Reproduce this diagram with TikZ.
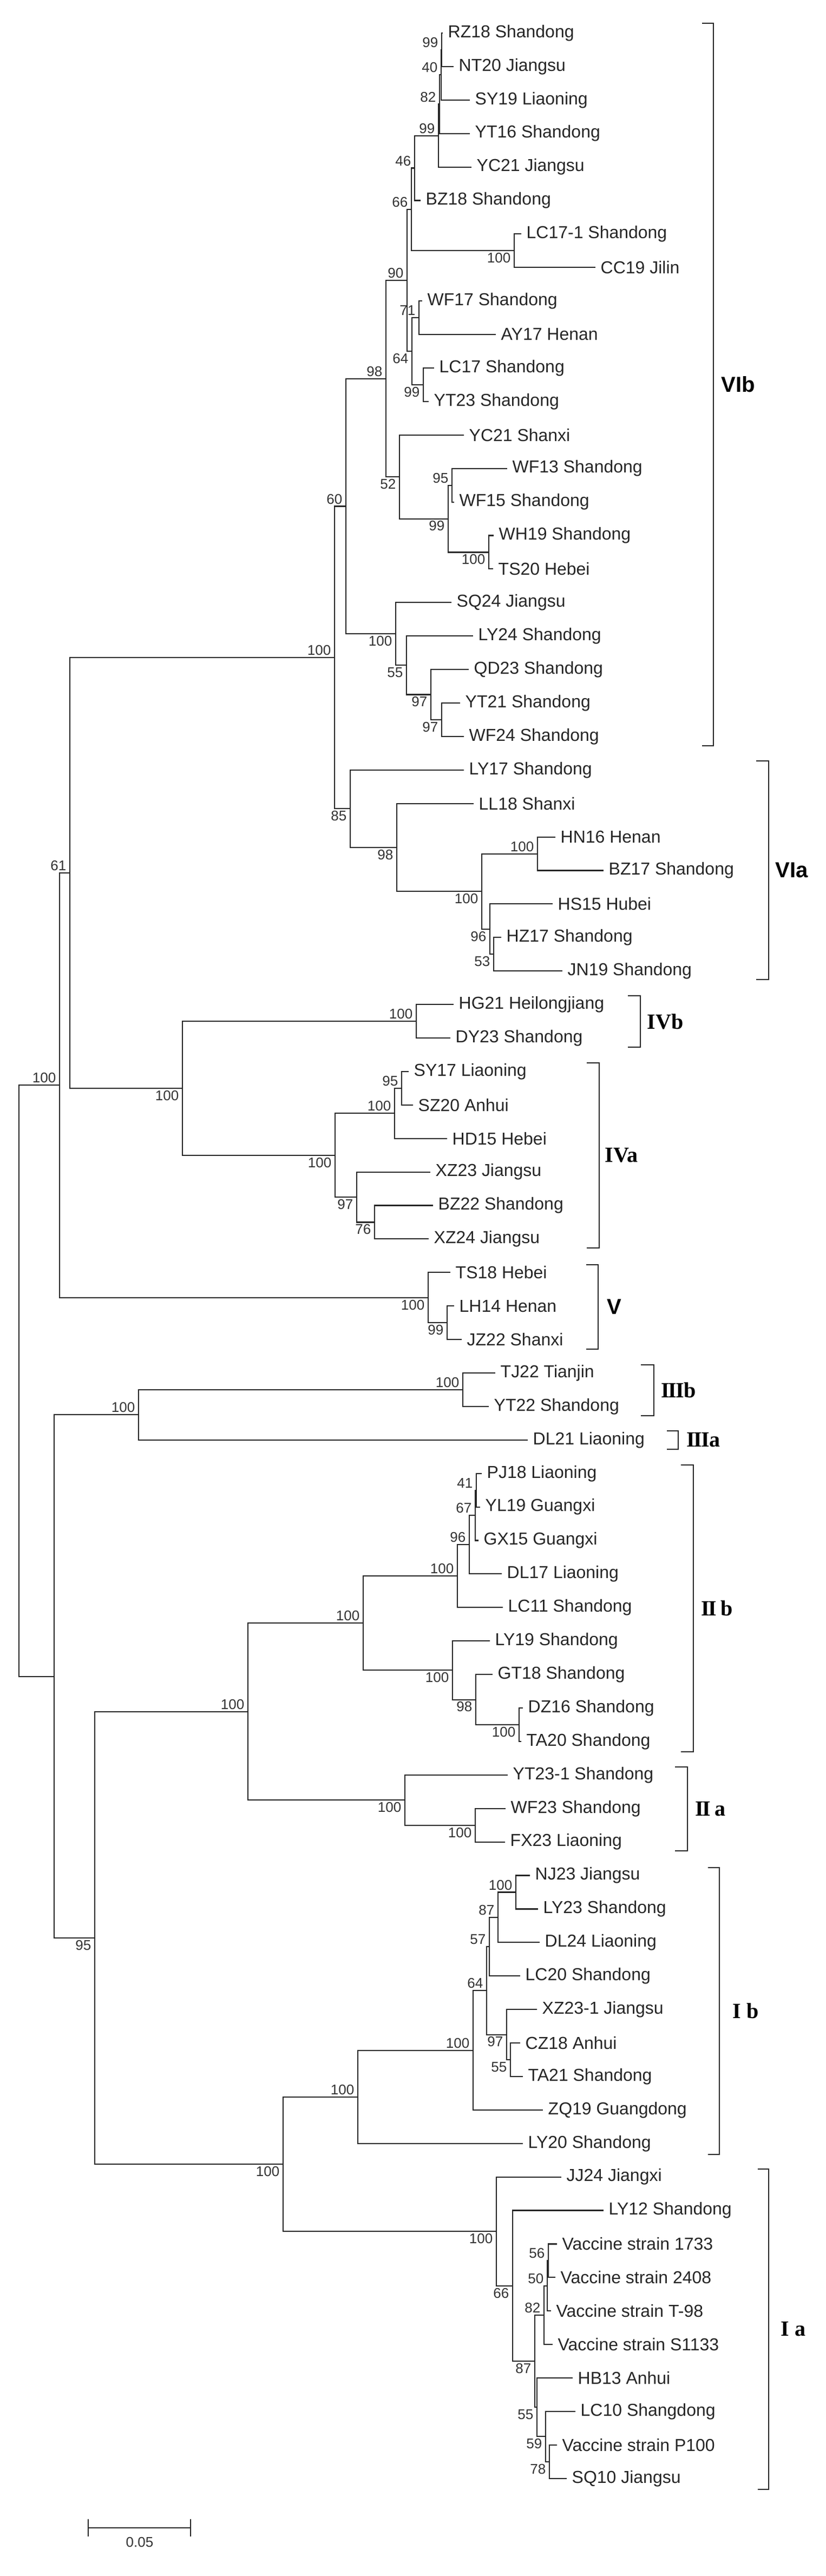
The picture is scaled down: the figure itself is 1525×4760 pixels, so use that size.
\documentclass[tikz,border=0pt]{standalone}
\usepackage{fontspec}
\setmainfont{Liberation Sans}
\newfontfamily\serifb{Liberation Serif}
\usetikzlibrary{calc}
\tikzset{
 br/.style={draw=black!85,line width=0.6pt},
 lab/.style={anchor=west,inner sep=0pt,xshift=0.9mm,font=\fontsize{9.1pt}{10pt}\selectfont,text=black!85},
 bs/.style={inner sep=0pt,font=\fontsize{7.4pt}{8pt}\selectfont,text=black!80},
 ab/.style={bs,anchor=south east,xshift=-0.6mm,yshift=0.35mm},
 be/.style={bs,anchor=north east,xshift=-0.6mm,yshift=-0.35mm},
 clade/.style={anchor=west,inner sep=0pt,font=\fontsize{11.4pt}{12pt}\selectfont\bfseries},
 bline/.style={draw=black!85,line width=0.55pt}
}
\newcommand\lf[4]{\coordinate (#1) at ({#3*0.1mm},{-(61+61.9*#2)*0.1mm});
 \node[lab] (#1t) at (#1) {#4};}
\newcommand\nd[6]{\path let \p1=(#4), \p2=(#5) in coordinate (#2) at ({#3*0.1mm},{(\y1+\y2)/2});
 \draw[br] (#4) -| (#2) |- (#5);
 \node[#1] (#2b) at (#2) {#6};}
\newcommand\brk[7]{\draw[bline] ({#4*0.1mm},{-#2*0.1mm}) -- ({#1*0.1mm},{-#2*0.1mm}) -- ({#1*0.1mm},{-#3*0.1mm}) -- ({#4*0.1mm},{-#3*0.1mm});
 \node[clade] at ({#5*0.1mm},{-(#2+#3)/2*0.1mm}) {#6};}
\newcommand\rmn[1]{{\serifb\bfseries #1}}
\begin{document}
\begin{tikzpicture}[x=0.1mm,y=-0.1mm]
\useasboundingbox (0,0) rectangle (1525,4760);
\fill[white] (0,0) rectangle (1525,4760);
\lf{L0}{0}{818}{RZ18 Shandong}
\lf{L1}{1}{838}{NT20 Jiangsu}
\lf{L2}{2}{868}{SY19 Liaoning}
\lf{L3}{3}{868}{YT16 Shandong}
\lf{L4}{4}{871}{YC21 Jiangsu}
\lf{L5}{5}{777}{BZ18 Shandong}
\lf{L6}{6}{963}{LC17-1 Shandong}
\lf{L7}{7}{1100}{CC19 Jilin}
\lf{L8}{8}{780}{WF17 Shandong}
\lf{L9}{9}{916}{AY17 Henan}
\lf{L10}{10}{802}{LC17 Shandong}
\lf{L11}{11}{792}{YT23 Shandong}
\lf{L12}{12}{857}{YC21 Shanxi}
\lf{L13}{13}{937}{WF13 Shandong}
\lf{L14}{14}{839}{WF15 Shandong}
\lf{L15}{15}{912}{WH19 Shandong}
\lf{L16}{16}{911}{TS20 Hebei}
\lf{L17}{17}{834}{SQ24 Jiangsu}
\lf{L18}{18}{874}{LY24 Shandong}
\lf{L19}{19}{866}{QD23 Shandong}
\lf{L20}{20}{850}{YT21 Shandong}
\lf{L21}{21}{857}{WF24 Shandong}
\lf{L22}{22}{857}{LY17 Shandong}
\lf{L23}{23}{875}{LL18 Shanxi}
\lf{L24}{24}{1026}{HN16 Henan}
\lf{L25}{25}{1115}{BZ17 Shandong}
\lf{L26}{26}{1021}{HS15 Hubei}
\lf{L27}{27}{926}{HZ17 Shandong}
\lf{L28}{28}{1039}{JN19 Shandong}
\lf{L29}{29}{838}{HG21 Heilongjiang}
\lf{L30}{30}{832}{DY23 Shandong}
\lf{L31}{31}{755}{SY17 Liaoning}
\lf{L32}{32}{763}{SZ20 Anhui}
\lf{L33}{33}{826}{HD15 Hebei}
\lf{L34}{34}{795}{XZ23 Jiangsu}
\lf{L35}{35}{800}{BZ22 Shandong}
\lf{L36}{36}{792}{XZ24 Jiangsu}
\lf{L37}{37}{832}{TS18 Hebei}
\lf{L38}{38}{839}{LH14 Henan}
\lf{L39}{39}{853}{JZ22 Shanxi}
\lf{L40}{40}{915}{TJ22 Tianjin}
\lf{L41}{41}{903}{YT22 Shandong}
\lf{L42}{42}{975}{DL21 Liaoning}
\lf{L43}{43}{890}{PJ18 Liaoning}
\lf{L44}{44}{887}{YL19 Guangxi}
\lf{L45}{45}{884}{GX15 Guangxi}
\lf{L46}{46}{927}{DL17 Liaoning}
\lf{L47}{47}{929}{LC11 Shandong}
\lf{L48}{48}{905}{LY19 Shandong}
\lf{L49}{49}{910}{GT18 Shandong}
\lf{L50}{50}{966}{DZ16 Shandong}
\lf{L51}{51}{963}{TA20 Shandong}
\lf{L52}{52}{938}{YT23-1 Shandong}
\lf{L53}{53}{934}{WF23 Shandong}
\lf{L54}{54}{933}{FX23 Liaoning}
\lf{L55}{55}{979}{NJ23 Jiangsu}
\lf{L56}{56}{994}{LY23 Shandong}
\lf{L57}{57}{997}{DL24 Liaoning}
\lf{L58}{58}{961}{LC20 Shandong}
\lf{L59}{59}{992}{XZ23-1 Jiangsu}
\lf{L60}{60}{961}{CZ18 Anhui}
\lf{L61}{61}{966}{TA21 Shandong}
\lf{L62}{62}{1003}{ZQ19 Guangdong}
\lf{L63}{63}{966}{LY20 Shandong}
\lf{L64}{64}{1037}{JJ24 Jiangxi}
\lf{L65}{65}{1115}{LY12 Shandong}
\lf{L66}{66}{1029}{Vaccine strain 1733}
\lf{L67}{67}{1026}{Vaccine strain 2408}
\lf{L68}{68}{1018}{Vaccine strain T-98}
\lf{L69}{69}{1021}{Vaccine strain S1133}
\lf{L70}{70}{1058}{HB13 Anhui}
\lf{L71}{71}{1063}{LC10 Shangdong}
\lf{L72}{72}{1029}{Vaccine strain P100}
\lf{L73}{73}{1047}{SQ10 Jiangsu}
% VIb
\nd{ab}{na}{816}{L0}{L1}{99}
\nd{ab}{nb}{815}{na}{L2}{40}
\nd{ab}{nc}{812}{nb}{L3}{82}
\nd{ab}{nd}{810}{nc}{L4}{99}
\nd{ab}{ne}{766}{nd}{L5}{46}
\nd{be}{nlc}{950}{L6}{L7}{100}
\nd{ab}{nf}{760}{ne}{nlc}{66}
\nd{ab}{nsf}{774}{L8}{L9}{71}
\nd{be}{nnb}{782}{L10}{L11}{99}
\nd{be}{nsx}{761}{nsf}{nnb}{64}
\nd{ab}{nnz}{752}{nf}{nsx}{90}
\nd{ab}{nnf}{835}{L13}{L14}{95}
\nd{be}{nwh}{903}{L15}{L16}{100}
\nd{be}{nnc}{828}{nnf}{nwh}{99}
\nd{be}{nft}{738}{L12}{nnc}{52}
\nd{ab}{nne}{713}{nnz}{nft}{98}
\nd{be}{nsvb}{816}{L20}{L21}{97}
\nd{be}{nsv}{796}{L19}{nsvb}{97}
\nd{be}{nff}{751}{L18}{nsv}{55}
\nd{be}{nsq}{731}{L17}{nff}{100}
\nd{ab}{nsix}{639}{nne}{nsq}{60}
% VIa
\nd{be}{nft3}{912}{L27}{L28}{53}
\nd{be}{nns}{905}{L26}{nft3}{96}
\nd{ab}{nhn}{993}{L24}{L25}{100}
\nd{be}{nha}{890}{nhn}{nns}{100}
\nd{be}{nea}{733}{L23}{nha}{98}
\nd{be}{nef}{647}{L22}{nea}{85}
\nd{ab}{nVI}{618}{nsix}{nef}{100}
% IV
\nd{ab}{nIVb}{769}{L29}{L30}{100}
\nd{ab}{nnfd}{742}{L31}{L32}{95}
\nd{ab}{nhd}{729}{nnfd}{L33}{100}
\nd{be}{nss}{692}{L35}{L36}{76}
\nd{be}{nnsd}{659}{L34}{nss}{97}
\nd{be}{nIVa}{619}{nhd}{nnsd}{100}
\nd{be}{nIV}{337}{nIVb}{nIVa}{100}
\nd{ab}{nso}{129}{nVI}{nIV}{61}
% V
\nd{be}{nnne}{826}{L38}{L39}{99}
\nd{be}{nV}{791}{L37}{nnne}{100}
\nd{ab}{ntop}{110}{nso}{nV}{100}
% III
\nd{ab}{nIIIb}{855}{L40}{L41}{100}
\nd{ab}{nIII}{256}{nIIIb}{L42}{100}
% II
\nd{ab}{nfo}{880}{L43}{L44}{41}
\nd{ab}{nsz}{878}{nfo}{L45}{67}
\nd{ab}{nnsf}{867}{nsz}{L46}{96}
\nd{ab}{nhf}{845}{nnsf}{L47}{100}
\nd{be}{ndz}{959}{L50}{L51}{100}
\nd{be}{nef2}{879}{L49}{ndz}{98}
\nd{be}{nhg}{836}{L48}{nef2}{100}
\nd{ab}{nIIb}{671}{nhf}{nhg}{100}
\nd{be}{nwf}{878}{L53}{L54}{100}
\nd{be}{nIIa}{748}{L52}{nwf}{100}
\nd{ab}{nII}{458}{nIIb}{nIIa}{100}
% I
\nd{ab}{nnj}{953}{L55}{L56}{100}
\nd{ab}{nesh}{920}{nnj}{L57}{87}
\nd{ab}{nfsh}{904}{nesh}{L58}{57}
\nd{be}{nffh}{943}{L60}{L61}{55}
\nd{be}{nnsh}{936}{L59}{nffh}{97}
\nd{ab}{nsfh}{899}{nfsh}{nnsh}{64}
\nd{ab}{nhh}{874}{nsfh}{L62}{100}
\nd{ab}{nIb}{661}{nhh}{L63}{100}
\nd{ab}{nfs}{1013}{L66}{L67}{56}
\nd{ab}{nfz}{1011}{nfs}{L68}{50}
\nd{ab}{net}{1005}{nfz}{L69}{82}
\nd{be}{nse}{1015}{L72}{L73}{78}
\nd{be}{nfn}{1008}{L71}{nse}{59}
\nd{be}{nffi}{992}{L70}{nfn}{55}
\nd{be}{nesi}{988}{net}{nffi}{87}
\nd{be}{nss6}{947}{L65}{nesi}{66}
\nd{be}{nIa}{917}{L64}{nss6}{100}
\nd{be}{nI}{523}{nIb}{nIa}{100}
\nd{be}{nnfj}{175}{nII}{nI}{95}
\nd{ab}{nx}{100}{nIII}{nnfj}{}
\nd{ab}{root}{35}{ntop}{nx}{}
% clade brackets
\brk{1318}{43}{1378}{1297}{1332}{VIb}{}
\brk{1420}{1406}{1810}{1397}{1432}{VIa}{}
\brk{1183}{1840}{1935}{1160}{1195}{\rmn{IVb}}{}
\brk{1107}{1964}{2306}{1084}{1117}{\rmn{IVa}}{}
\brk{1105}{2337}{2493}{1083}{1121}{V}{}
\brk{1208}{2522}{2616}{1184}{1221}{\rmn{I\kern-0.06em I\kern-0.06em Ib}}{}
\brk{1253}{2644}{2678}{1232}{1268}{\rmn{I\kern-0.06em I\kern-0.06em Ia}}{}
\brk{1281}{2707}{3237}{1258}{1295}{\rmn{I\kern-0.06em I\,b}}{}
\brk{1270}{3265}{3420}{1247}{1284}{\rmn{I\kern-0.06em I\,a}}{}
\brk{1329}{3451}{3981}{1308}{1353}{\rmn{I\ b}}{}
\brk{1420}{4008}{4600}{1400}{1442}{\rmn{I\ a}}{}
% scale bar
\coordinate (sb1) at (163,4671);
\coordinate (sb2) at (352,4671);
\draw[bline] (sb1) -- (sb2);
\draw[bline] ($(sb1)+(0,-16)$) -- ($(sb1)+(0,16)$);
\draw[bline] ($(sb2)+(0,-16)$) -- ($(sb2)+(0,16)$);
\node[bs,anchor=north] (sbl) at (258,4688) {0.05};
\end{tikzpicture}
\end{document}
